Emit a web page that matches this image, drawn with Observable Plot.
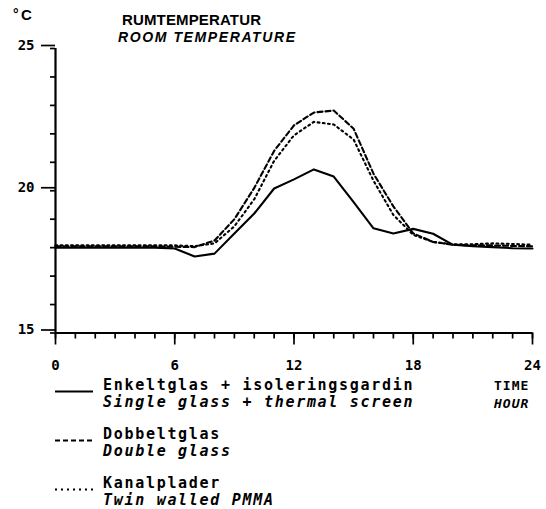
<!DOCTYPE html>
<html>
<head>
<meta charset="utf-8">
<script src="https://cdn.jsdelivr.net/npm/d3@7"></script>
<script src="https://cdn.jsdelivr.net/npm/@observablehq/plot@0.6"></script>
<style>
  body { margin: 0; background: #fff; }
  #wrap { position: relative; width: 546px; height: 509px; overflow: hidden; background: #fff; }
  #chart, #overlay { position: absolute; left: 0; top: 0; }
  .mono { font-family: "DejaVu Sans Mono", monospace; font-size: 15px; letter-spacing: 1.7px; font-weight: bold; fill: #000; }
  .ital { font-style: italic; }
  .head { font-family: "Liberation Sans", Arial, sans-serif; font-weight: bold; fill: #000; }
</style>
</head>
<body>
<div id="wrap"><div id="chart"></div></div>
<script>
// ---- data ----
const hours = [0,1,2,3,4,5,6,7,8,9,10,11,12,13,14,15,16,17,18,19,20,21,22,23,24];
const singleGlass = [18.0,18.0,18.0,18.0,18.0,18.0,17.97,17.69,17.79,18.5,19.2,20.08,20.4,20.75,20.5,19.6,18.68,18.5,18.66,18.49,18.1,18.05,18.02,17.98,17.97];
const doubleGlass = [18.05,18.05,18.05,18.05,18.05,18.05,18.03,18.02,18.25,19.0,20.1,21.4,22.3,22.75,22.82,22.18,20.6,19.45,18.5,18.2,18.1,18.08,18.08,18.06,18.05];
const twinWalled  = [18.08,18.08,18.08,18.08,18.08,18.08,18.08,18.05,18.15,18.75,19.7,21.05,21.95,22.42,22.33,21.8,20.35,19.15,18.45,18.2,18.12,18.12,18.15,18.13,18.1];
const seriesNames = ["Enkeltglas + isoleringsgardin", "Dobbeltglas", "Kanalplader"];
const seriesNamesEn = ["Single glass + thermal screen", "Double glass", "Twin walled PMMA"];
const dashes = [null, "5,3", "1.8,3.4"];
const xMajorTicks = [0, 6, 12, 18, 24];
const xMinorTicks = [0,1,2,3,4,5,6,7,8,9,10,11,12,13,14,15,16,17,18,19,20,21,22,23,24];
const yMajorTicks = [15, 20, 25];
const yMinorTicks = [15,16,17,18,19,20,21,22,23,24,25];

const rows = [];
[singleGlass, doubleGlass, twinWalled].forEach((vals, i) => {
  hours.forEach((h, j) => rows.push({series: seriesNames[i], hour: h, temp: vals[j]}));
});

const chart = Plot.plot({
  width: 546,
  height: 370,
  marginLeft: 55,
  marginRight: 14,
  marginTop: 48,
  marginBottom: 37.5,
  x: { domain: [0, 24] },
  y: { domain: [15, 25] },
  style: { fontFamily: "DejaVu Sans Mono, monospace", fontSize: "14px", color: "#000", background: "#fff", overflow: "visible" },
  marks: [
    Plot.axisX({ ticks: xMinorTicks, tickSize: 6, tickFormat: () => "", strokeWidth: 1.7, label: null }),
    Plot.axisX({ ticks: xMajorTicks, tickSize: 12, tickPadding: 15, strokeWidth: 1.7, label: null, fontWeight: "bold", letterSpacing: "1.5px" }),
    Plot.axisY({ ticks: yMinorTicks, tickSize: 5, tickFormat: () => "", strokeWidth: 1.7, label: null }),
    Plot.axisY({ ticks: yMajorTicks, tickSize: 14, tickPadding: 7, dy: -3, strokeWidth: 1.7, label: null, fontWeight: "bold", letterSpacing: "1.5px" }),
    Plot.ruleY([15], { strokeWidth: 2.2 }),
    Plot.ruleX([0], { strokeWidth: 2.2 }),
    ...seriesNames.map((name, i) =>
      Plot.line(rows.filter(d => d.series === name), {
        x: "hour", y: "temp", stroke: "#000", strokeWidth: 2.1,
        strokeDasharray: dashes[i], strokeLinejoin: "round"
      })
    )
  ]
});
document.getElementById("chart").appendChild(chart);

// ---- overlay text: title, unit, legend ----
const ns = "http://www.w3.org/2000/svg";
const ov = document.createElementNS(ns, "svg");
ov.setAttribute("id", "overlay");
ov.setAttribute("width", 546);
ov.setAttribute("height", 509);
document.getElementById("wrap").appendChild(ov);
function txt(s, x, y, cls, extra = {}) {
  const t = document.createElementNS(ns, "text");
  t.setAttribute("x", x); t.setAttribute("y", y);
  t.setAttribute("class", cls);
  for (const k in extra) t.setAttribute(k, extra[k]);
  t.textContent = s; ov.appendChild(t); return t;
}
function ln(y, dash) {
  const l = document.createElementNS(ns, "line");
  l.setAttribute("x1", 55); l.setAttribute("x2", 93);
  l.setAttribute("y1", y); l.setAttribute("y2", y);
  l.setAttribute("stroke", "#000"); l.setAttribute("stroke-width", 1.8);
  if (dash) l.setAttribute("stroke-dasharray", dash);
  ov.appendChild(l);
}
txt("°", 13, 19, "head", {"font-size": 14});
txt("C", 21, 20, "head", {"font-size": 15});
txt("RUMTEMPERATUR", 122, 25, "head", {"font-size": 15, "textLength": 139, "lengthAdjust": "spacing"});
txt("ROOM TEMPERATURE", 118, 42, "head", {"font-size": 14, "font-style": "italic", "textLength": 177, "lengthAdjust": "spacing"});

const legendY = [389.5, 438.5, 487.5];
const legendDash = [null, "5,3", "2,4"];
seriesNames.forEach((name, i) => {
  ln(legendY[i] + 2, legendDash[i]);
  txt(name, 103, legendY[i], "mono");
  txt(seriesNamesEn[i], 103, legendY[i] + 17, "mono ital");
});
txt("TIME", 494, 390, "mono", {"style": "font-size:13px;letter-spacing:1px"});
txt("HOUR", 494, 408, "mono ital", {"style": "font-size:13px;letter-spacing:1px"});
</script>
</body>
</html>
